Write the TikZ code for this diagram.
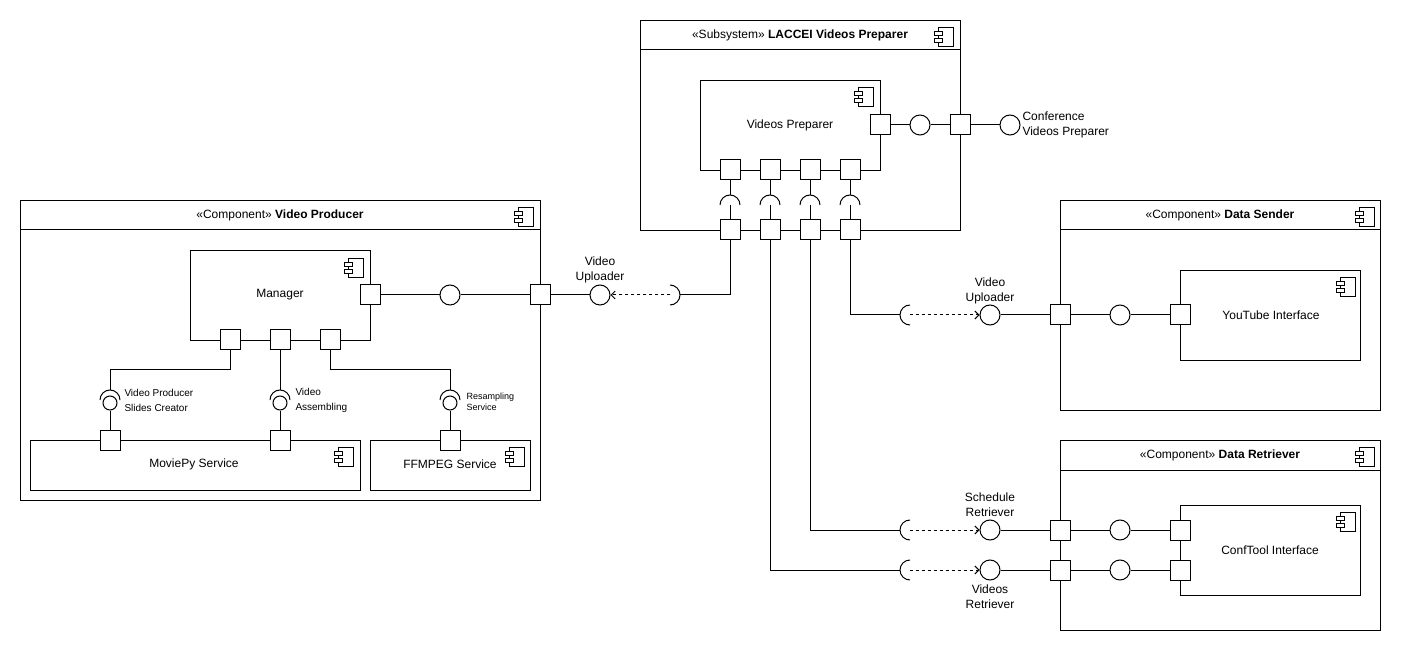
\documentclass[tikz,border=0pt]{standalone}
\usepackage{fontspec}
\setmainfont{Liberation Sans}
\usetikzlibrary{arrows.meta}
\begin{document}
\begin{tikzpicture}[x=1pt,y=-1pt,line width=1pt,
  box/.style={draw,fill=white,inner sep=0pt,anchor=north west},
  port/.style={draw,fill=white,minimum size=20pt,inner sep=0pt},
  ball/.style={draw,fill=white,circle,minimum size=20pt,inner sep=0pt},
  sball/.style={draw,fill=white,circle,minimum size=14pt,inner sep=0pt},
  txt/.style={inner sep=0pt,font=\fontsize{12}{15}\selectfont},
  lbl/.style={inner sep=0pt,font=\fontsize{12}{15}\selectfont,align=center},
  slbl/.style={inner sep=0pt,anchor=west,align=left,font=\fontsize{10}{15}\selectfont},
  tlbl/.style={inner sep=0pt,anchor=west,align=left,font=\fontsize{9}{11}\selectfont},
  dep/.style={dash pattern=on 3pt off 3pt,-{Straight Barb[length=4pt,width=8pt]}},
  compicon/.pic={
    \draw[fill=white,line width=0.9pt] (-15,0) rectangle (0,19);
    \draw[fill=white,line width=0.9pt] (-19,4) rectangle (-11,8);
    \draw[fill=white,line width=0.9pt] (-19,11) rectangle (-11,15);
  },
  sockR/.pic={\draw (0,-10) .. controls (5.523,-10) and (10,-5.523) .. (10,0) .. controls (10,5.523) and (5.523,10) .. (0,10);},
  sockL/.pic={\draw (0,-10) .. controls (-5.523,-10) and (-10,-5.523) .. (-10,0) .. controls (-10,5.523) and (-5.523,10) .. (0,10);},
  sockU/.pic={\draw (-10,0) .. controls (-10,-5.523) and (-5.523,-10) .. (0,-10) .. controls (5.523,-10) and (10,-5.523) .. (10,0);}
]
\useasboundingbox (0,0) rectangle (1401,652);
\fill[white] (0,0) rectangle (1401,652);

% ---------- Subsystem ----------
\node[box,minimum width=320pt,minimum height=210pt] (sub) at (640,20) {};
\draw (640,50) -- (960,50);
\node[txt] (subT) at (800,35) {«Subsystem» \textbf{LACCEI Videos Preparer}};
\pic at (953,27) {compicon};
\node[box,minimum width=180pt,minimum height=90pt] (vp) at (700,80) {};
\node[txt] (vpT) at (790,125) {Videos Preparer};
\pic at (873,87) {compicon};

% ---------- Video Producer ----------
\node[box,minimum width=520pt,minimum height=300pt] (vprod) at (20,200) {};
\draw (20,230) -- (540,230);
\node[txt] (vprodT) at (280,215) {«Component» \textbf{Video Producer}};
\pic at (533,207) {compicon};
\node[box,minimum width=180pt,minimum height=90pt] (man) at (190,250) {};
\node[txt] (manT) at (280,295) {Manager};
\pic at (363,258) {compicon};
\node[box,minimum width=330pt,minimum height=50pt] (mpy) at (30,440) {};
\node[txt] (mpyT) at (194,464) {MoviePy Service};
\pic at (353,447) {compicon};
\node[box,minimum width=160pt,minimum height=50pt] (ffm) at (370,440) {};
\node[txt] (ffmT) at (450,464) {FFMPEG Service};
\pic at (524,447) {compicon};

% ---------- Data Sender ----------
\node[box,minimum width=320pt,minimum height=210pt] (ds) at (1060,200) {};
\draw (1060,230) -- (1380,230);
\node[txt] (dsT) at (1220,215) {«Component» \textbf{Data Sender}};
\pic at (1374,207) {compicon};
\node[box,minimum width=180pt,minimum height=90pt] (yt) at (1180,270) {};
\node[txt] (ytT) at (1271,315) {YouTube Interface};
\pic at (1355,277) {compicon};

% ---------- Data Retriever ----------
\node[box,minimum width=320pt,minimum height=190pt] (dr) at (1060,440) {};
\draw (1060,470) -- (1380,470);
\node[txt] (drT) at (1220,455) {«Component» \textbf{Data Retriever}};
\pic at (1374,447) {compicon};
\node[box,minimum width=180pt,minimum height=90pt] (ct) at (1180,505) {};
\node[txt] (ctT) at (1270,550) {ConfTool Interface};
\pic at (1355,512) {compicon};

% ---------- Ports ----------
\node[port] (vpR) at (880,125) {};
\node[port] (vp1) at (730,170) {};
\node[port] (vp2) at (770,170) {};
\node[port] (vp3) at (810,170) {};
\node[port] (vp4) at (850,170) {};
\node[port] (sR) at (960,125) {};
\node[port] (s1) at (730,230) {};
\node[port] (s2) at (770,230) {};
\node[port] (s3) at (810,230) {};
\node[port] (s4) at (850,230) {};

\node[port] (mR) at (370,295) {};
\node[port] (m1) at (230,340) {};
\node[port] (m2) at (280,340) {};
\node[port] (m3) at (330,340) {};
\node[port] (vpo) at (540,295) {};
\node[port] (mv1) at (110,440) {};
\node[port] (mv2) at (280,440) {};
\node[port] (ff1) at (450,440) {};

\node[port] (dsP) at (1060,315) {};
\node[port] (ytP) at (1180,315) {};
\node[port] (drP1) at (1060,530) {};
\node[port] (drP2) at (1060,570) {};
\node[port] (ctP1) at (1180,530) {};
\node[port] (ctP2) at (1180,570) {};

% ---------- Balls ----------
\node[ball] (cvp) at (920,125) {};
\node[ball] (conf) at (1010,125) {};
\node[ball] (cman) at (450,295) {};
\node[ball] (bU1) at (600,295) {};
\node[ball] (bU2) at (990,315) {};
\node[ball] (cds) at (1120,315) {};
\node[ball] (bSR) at (990,530) {};
\node[ball] (bVR) at (990,570) {};
\node[ball] (cdr1) at (1120,530) {};
\node[ball] (cdr2) at (1120,570) {};
\node[sball] (sb1) at (110,403) {};
\node[sball] (sb2) at (280,403) {};
\node[sball] (sb3) at (450,403) {};

% ---------- Coordinates ----------
\coordinate (k1t) at (730,195); \coordinate (k1c) at (730,205);
\coordinate (k2t) at (770,195); \coordinate (k2c) at (770,205);
\coordinate (k3t) at (810,195); \coordinate (k3c) at (810,205);
\coordinate (k4t) at (850,195); \coordinate (k4c) at (850,205);
\coordinate (u1t) at (680,295); \coordinate (u1c) at (670,295);
\coordinate (u2t) at (900,315); \coordinate (u2c) at (910,315);
\coordinate (r1t) at (900,530); \coordinate (r1c) at (910,530);
\coordinate (r2t) at (900,570); \coordinate (r2c) at (910,570);
\coordinate (j1) at (110,370); \coordinate (a1t) at (110,390); \coordinate (a1c) at (110,400);
\coordinate (a2t) at (280,390); \coordinate (a2c) at (280,400);
\coordinate (j3) at (450,370); \coordinate (a3t) at (450,390); \coordinate (a3c) at (450,400);

% ---------- Connectors: subsystem ----------
\draw (vpR) -- (cvp) -- (sR) -- (conf);
\foreach \i in {1,2,3,4}{
  \draw (vp\i) -- (k\i t);
  \pic at (k\i c) {sockU};
  \draw (k\i c) -- (s\i);
}
\draw (s1) |- (u1t);
\pic at (u1c) {sockR};
\draw[dep] (u1c) -- (bU1);
\draw (s4) |- (u2t);
\pic at (u2c) {sockL};
\draw[dep] (u2c) -- (bU2);
\draw (s3) |- (r1t);
\pic at (r1c) {sockL};
\draw[dep] (r1c) -- (bSR);
\draw (s2) |- (r2t);
\pic at (r2c) {sockL};
\draw[dep] (r2c) -- (bVR);

% ---------- Connectors: Data Sender / Retriever ----------
\draw (bU2) -- (dsP) -- (cds) -- (ytP);
\draw (bSR) -- (drP1) -- (cdr1) -- (ctP1);
\draw (bVR) -- (drP2) -- (cdr2) -- (ctP2);

% ---------- Connectors: Video Producer ----------
\draw (mR) -- (cman) -- (vpo) -- (bU1);
\draw (m1) |- (j1) -- (a1t);
\pic at (a1c) {sockU};
\draw (sb1) -- (mv1);
\draw (m2) -- (a2t);
\pic at (a2c) {sockU};
\draw (sb2) -- (mv2);
\draw (m3) |- (j3) -- (a3t);
\pic at (a3c) {sockU};
\draw (sb3) -- (ff1);

% ---------- Labels ----------
\node[lbl] (lU1) at (600,270) {Video\\Uploader};
\node[lbl] (lU2) at (990,290.5) {Video\\Uploader};
\node[lbl] (lSR) at (990,505) {Schedule\\Retriever};
\node[lbl] (lVR) at (990,596.5) {Videos\\Retriever};
\node[txt,anchor=west,align=left] (lconf) at (1022,125) {Conference\\Videos Preparer};
\node[slbl] (lvps) at (124,400.5) {Video Producer\\Slides Creator};
\node[slbl] (lva) at (295,400.5) {Video\\Assembling};
\node[tlbl] (lrs) at (466,401.5) {Resampling\\Service};
\end{tikzpicture}
\end{document}
